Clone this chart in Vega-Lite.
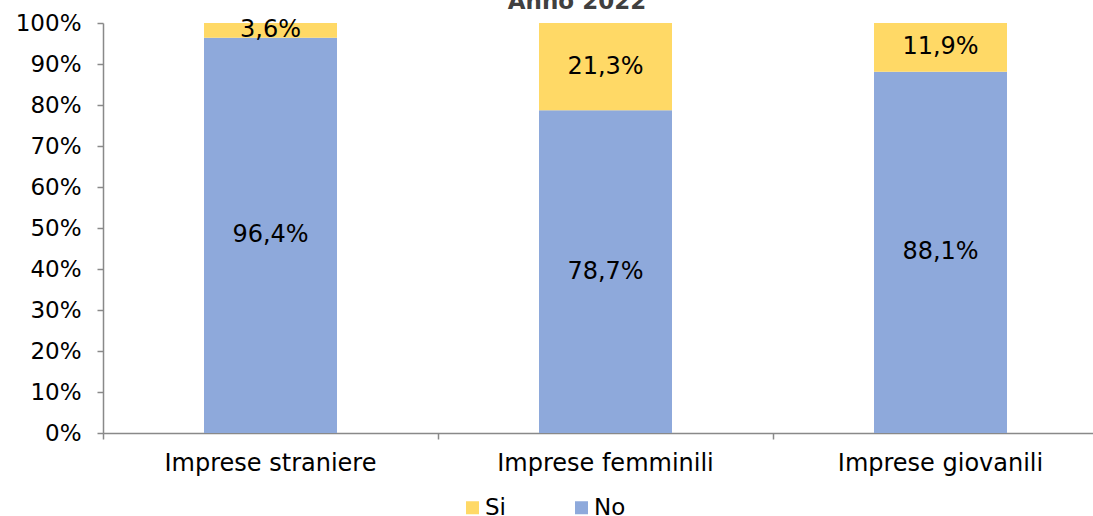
{
  "$schema": "https://vega.github.io/schema/vega-lite/v6.json",
  "width": 990,
  "height": 410,
  "autosize": "none",
  "padding": {"left": 103, "top": 23, "right": 0, "bottom": 83},
  "background": "white",
  "title": {"text": "Anno 2022", "fontSize": 23, "fontWeight": "bold", "color": "#404040", "font": "DejaVu Sans", "anchor": "middle", "dx": -21, "baseline": "alphabetic", "offset": -20},
  "config": {
    "font": "DejaVu Sans",
    "view": {"stroke": null},
    "locale": {"number": {"decimal": ",", "thousands": ".", "grouping": [3], "currency": ["€", ""]}},
    "axisY": {"format": ".0%", "values": [0,0.1,0.2,0.3,0.4,0.5,0.6,0.7,0.8,0.9,1], "labelOverlap": false, "labelFontSize": 23, "labelColor": "#000000", "labelPadding": 16, "tickSize": 6, "domainColor": "#898989", "tickColor": "#898989", "domainWidth": 1.5, "tickWidth": 1.5, "grid": false, "title": null}
  },
  "data": {
    "values": [
      {"categoria": "Imprese straniere", "risposta": "No", "ordine": 1, "valore": 0.964},
      {"categoria": "Imprese straniere", "risposta": "Si", "ordine": 2, "valore": 0.036},
      {"categoria": "Imprese femminili", "risposta": "No", "ordine": 1, "valore": 0.787},
      {"categoria": "Imprese femminili", "risposta": "Si", "ordine": 2, "valore": 0.213},
      {"categoria": "Imprese giovanili", "risposta": "No", "ordine": 1, "valore": 0.881},
      {"categoria": "Imprese giovanili", "risposta": "Si", "ordine": 2, "valore": 0.119}
    ]
  },
  "transform": [
    {"stack": "valore", "groupby": ["categoria"], "sort": [{"field": "ordine", "order": "ascending"}], "as": ["v0", "v1"]},
    {"calculate": "(datum.v0 + datum.v1) / 2", "as": "vmid"}
  ],
  "encoding": {
    "x": {
      "field": "categoria", "type": "nominal", "sort": null, "title": null,
      "scale": {"range": [0, 1005], "paddingInner": 0, "paddingOuter": 0},
      "axis": {"labelAngle": 0, "labelFontSize": 24, "labelLimit": 0, "labelColor": "#000000", "labelPadding": 12, "tickSize": 6, "bandPosition": 0, "domainColor": "#898989", "tickColor": "#898989", "domainWidth": 1.5, "tickWidth": 1.5, "grid": false}
    }
  },
  "layer": [
    {
      "mark": {"type": "bar", "width": {"band": 0.397}},
      "encoding": {
        "y": {"field": "v0", "type": "quantitative", "title": null,
          "scale": {"domain": [0, 1], "nice": false}},
        "y2": {"field": "v1"},
        "color": {"field": "risposta", "type": "nominal",
          "scale": {"domain": ["Si", "No"], "range": ["#FFD966", "#8EA9DB"]},
          "legend": {"title": null, "orient": "none", "direction": "horizontal", "legendX": 358, "legendY": 473, "symbolType": "square", "symbolSize": 169, "symbolStrokeWidth": 0, "symbolOpacity": 1, "labelFontSize": 23, "labelColor": "#000000", "labelOffset": 1, "columnPadding": 64}}
      }
    },
    {
      "mark": {"type": "text", "fontSize": 24, "color": "#000000", "baseline": "middle", "align": "center"},
      "encoding": {
        "y": {"field": "vmid", "type": "quantitative", "title": null},
        "text": {"field": "valore", "type": "quantitative", "format": ".1%"}
      }
    }
  ]
}
